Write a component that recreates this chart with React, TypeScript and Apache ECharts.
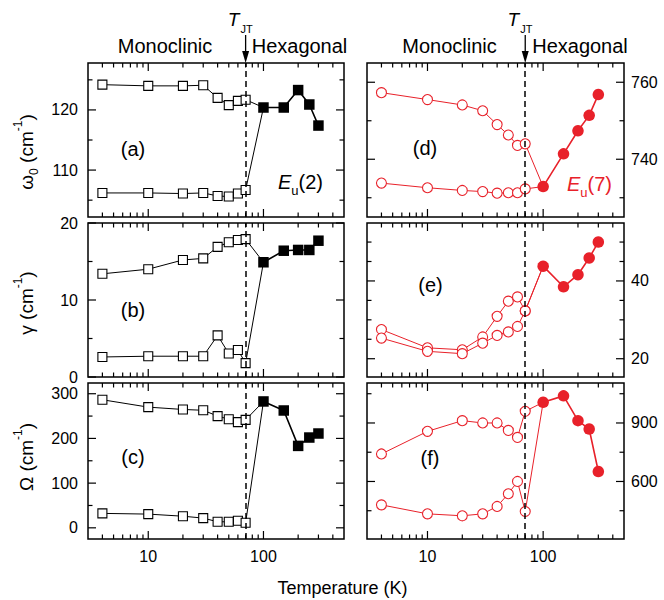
import React, { useEffect, useRef } from 'react';
import * as echarts from 'echarts';

// ---------------- data ----------------
const tempsLow = [4, 10, 20, 30, 40, 50, 60, 70];
const tempsHigh = [100, 150, 200, 250, 300];
const T_JT = 70;

// Eu(2) mode (left column)
const omegaUpperEu2 = [124.2, 124.0, 124.0, 124.1, 122.0, 120.8, 121.5, 121.7];
const omegaLowerEu2 = [106.2, 106.2, 106.1, 106.2, 105.7, 105.6, 106.1, 106.7];
const omegaHighEu2 = [120.4, 120.4, 123.3, 120.9, 117.4];

const gammaUpperEu2 = [13.4, 14.0, 15.2, 15.4, 16.9, 17.5, 17.8, 17.9];
const gammaLowerEu2 = [2.6, 2.7, 2.7, 2.7, 5.4, 3.05, 3.5, 1.8];
const gammaHighEu2 = [14.9, 16.4, 16.5, 16.5, 17.7];

const strengthUpperEu2 = [286.5, 270, 264.8, 263, 250, 243, 236.5, 241.6];
const strengthLowerEu2 = [32.3, 30.7, 26, 21.8, 13.5, 13.5, 15.7, 11.3];
const strengthHighEu2 = [282.7, 262.5, 183.3, 202, 211];

// Eu(7) mode (right column)
const omegaUpperEu7 = [757.3, 755.5, 754.1, 752.6, 749.0, 746.3, 743.6, 744.0];
const omegaLowerEu7 = [733.8, 732.6, 731.9, 731.6, 731.2, 731.3, 731.3, 732.3];
const omegaHighEu7 = [732.9, 741.4, 747.4, 751.4, 756.8];

const gammaUpperEu7 = [27.5, 22.8, 22.3, 25.6, 30.9, 34.8, 35.9, 32.3];
const gammaLowerEu7 = [25.3, 21.9, 21.3, 24.0, 26.0, 26.9, 28.3, 32.3];
const gammaHighEu7 = [43.8, 38.5, 41.6, 45.9, 50.0];

const strengthUpperEu7 = [741, 857, 912, 900, 900, 862, 826, 960];
const strengthLowerEu7 = [480, 434, 424, 434, 472, 537, 600, 446];
const strengthHighEu7 = [1006, 1039, 912, 869, 651];

// axis ticks / labels
const xMin = 3;
const xMax = 500;
const xTickLabels = [10, 100];
const xMajorTicks = [10, 100];
const xMinorTicks = [4, 5, 6, 7, 8, 9, 20, 30, 40, 50, 60, 70, 80, 90, 200, 300, 400];

const yLabelsA = [110, 120];
const yMinorA = [105, 115, 125];
const yLabelsB = [0, 10, 20];
const yMinorB = [5, 15];
const yLabelsC = [0, 100, 200, 300];
const yMinorC = [50, 150, 250];
const yLabelsD = [740, 760];
const yMinorD = [730, 750];
const yLabelsE = [20, 40];
const yMinorE = [25, 30, 35, 45, 50];
const yLabelsF = [600, 900];
const yMinorF = [450, 750, 1050];

// ---------------- layout / style ----------------
const FONT = "'Liberation Sans', Arial, Helvetica, sans-serif";
const RED = '#e8212a';
const BLACK = '#000000';
const colLeft = [88, 367];
const colWidth = [256, 257];
const rowTop = [63, 223, 383];
const rowHeight = [154, 154, 156];

type Panel = {
  upper: number[]; lower: number[]; high: number[];
  yMin: number; yMax: number; split: number;
  yLabels: number[]; yMinor: number[];
  red: boolean; col: number; row: number;
};

const panels: Panel[] = [
  { upper: omegaUpperEu2, lower: omegaLowerEu2, high: omegaHighEu2, yMin: 102.2, yMax: 127.8, split: 5, yLabels: yLabelsA, yMinor: yMinorA, red: false, col: 0, row: 0 },
  { upper: gammaUpperEu2, lower: gammaLowerEu2, high: gammaHighEu2, yMin: 0, yMax: 20, split: 5, yLabels: yLabelsB, yMinor: yMinorB, red: false, col: 0, row: 1 },
  { upper: strengthUpperEu2, lower: strengthLowerEu2, high: strengthHighEu2, yMin: -25, yMax: 324, split: 5, yLabels: yLabelsC, yMinor: yMinorC, red: false, col: 0, row: 2 },
  { upper: omegaUpperEu7, lower: omegaLowerEu7, high: omegaHighEu7, yMin: 725, yMax: 765, split: 5, yLabels: yLabelsD, yMinor: yMinorD, red: true, col: 1, row: 0 },
  { upper: gammaUpperEu7, lower: gammaLowerEu7, high: gammaHighEu7, yMin: 15.3, yMax: 54.9, split: 5, yLabels: yLabelsE, yMinor: yMinorE, red: true, col: 1, row: 1 },
  { upper: strengthUpperEu7, lower: strengthLowerEu7, high: strengthHighEu7, yMin: 305, yMax: 1105, split: 8, yLabels: yLabelsF, yMinor: yMinorF, red: true, col: 1, row: 2 },
];

const isIn = (list: number[], v: number) => list.some((l) => Math.abs(l - v) < 1e-6);

function buildOption(): any {
  const grid = panels.map((p) => ({
    left: colLeft[p.col], top: rowTop[p.row], width: colWidth[p.col], height: rowHeight[p.row],
    show: true, borderColor: BLACK, borderWidth: 1.5, backgroundColor: 'transparent', containLabel: false,
  }));
  const xAxis = panels.map((p, i) => ({
    type: 'log', logBase: 10, gridIndex: i, min: xMin, max: xMax,
    axisLine: { show: false }, axisTick: { show: false }, splitLine: { show: false },
    axisLabel: {
      show: p.row === 2, margin: 9, fontSize: 16, color: BLACK, fontFamily: FONT,
      formatter: (v: number) => (isIn(xTickLabels, Math.round(v)) ? String(Math.round(v)) : ''),
    },
  }));
  const yAxis = panels.map((p, i) => ({
    type: 'value', gridIndex: i, min: p.yMin, max: p.yMax, splitNumber: p.split,
    position: p.col === 0 ? 'left' : 'right',
    axisLine: { show: false }, axisTick: { show: false }, splitLine: { show: false },
    axisLabel: {
      margin: p.col === 0 ? 10 : 7, fontSize: 16, color: BLACK, fontFamily: FONT,
      showMinLabel: true, showMaxLabel: true,
      customValues: p.yLabels,
      formatter: (v: number) => (isIn(p.yLabels, v) ? String(Math.round(v)) : ''),
    },
  }));

  const series: any[] = [];
  panels.forEach((p, i) => {
    const col = p.red ? RED : BLACK;
    const openSym = p.red ? 'circle' : 'rect';
    const openSize = p.red ? 10 : 9;
    const fillSize = p.red ? 11.5 : 10.5;
    const mkOpen = (vals: number[], withMark: boolean) => ({
      type: 'line', xAxisIndex: i, yAxisIndex: i, z: 3,
      symbol: openSym, symbolSize: openSize,
      itemStyle: { color: '#ffffff', borderColor: col, borderWidth: 1.1 },
      lineStyle: { color: col, width: 1 },
      data: [
        ...tempsLow.map((t, k) => [t, vals[k]]),
        { value: [tempsHigh[0], p.high[0]], symbol: 'none' },
      ],
      markLine: withMark
        ? {
            silent: true, symbol: ['none', 'none'], label: { show: false },
            lineStyle: { color: BLACK, type: [6, 4], width: 1.5 },
            data: [{ xAxis: T_JT }],
          }
        : undefined,
    });
    series.push(mkOpen(p.upper, true));
    series.push(mkOpen(p.lower, false));
    series.push({
      type: 'line', xAxisIndex: i, yAxisIndex: i, z: 4,
      symbol: p.red ? 'circle' : 'rect', symbolSize: fillSize,
      itemStyle: { color: col, borderColor: col, borderWidth: 0 },
      lineStyle: { color: col, width: 1.6 },
      data: tempsHigh.map((t, k) => [t, p.high[k]]),
    });
    // tick marks (inside, on all four sides), positioned through the axes' scales
    const tickData = [
      ...xMinorTicks.map((v) => [v, p.yMin, 0]),
      ...xMajorTicks.map((v) => [v, p.yMin, 1]),
      ...p.yMinor.map((v) => [10, v, 2]),
      ...p.yLabels.map((v) => [10, v, 3]),
    ];
    series.push({
      type: 'custom', xAxisIndex: i, yAxisIndex: i, z: 6, silent: true, clip: false,
      data: tickData,
      renderItem: (params: any, api: any) => {
        const cs = params.coordSys;
        const kind = api.value(2);
        const pt = api.coord([api.value(0), api.value(1)]);
        const style = { stroke: BLACK, lineWidth: 1.2 };
        if (kind < 2) {
          const len = kind === 1 ? 8 : 4.5;
          const x = pt[0];
          const yb = cs.y + cs.height;
          return {
            type: 'group',
            children: [
              { type: 'line', shape: { x1: x, y1: yb, x2: x, y2: yb - len }, style },
              { type: 'line', shape: { x1: x, y1: cs.y, x2: x, y2: cs.y + len }, style },
            ],
          };
        }
        const len = kind === 3 ? 8 : 4.5;
        const y = pt[1];
        const xr = cs.x + cs.width;
        return {
          type: 'group',
          children: [
            { type: 'line', shape: { x1: cs.x, y1: y, x2: cs.x + len, y2: y }, style },
            { type: 'line', shape: { x1: xr, y1: y, x2: xr - len, y2: y }, style },
          ],
        };
      },
    });
  });

  return { animation: false, backgroundColor: '#ffffff', grid, xAxis, yAxis, series };
}

function textEl(x: number, y: number, text: string, size: number, extra: any = {}) {
  return {
    type: 'text', x, y, silent: true,
    style: {
      text, fontSize: size, fontFamily: FONT, fill: BLACK, align: 'center', verticalAlign: 'middle',
      ...extra,
    },
  };
}

function buildGraphic(chart: any): any[] {
  const g: any[] = [];
  const arrowX = [
    chart.convertToPixel({ xAxisIndex: 0 }, T_JT),
    chart.convertToPixel({ xAxisIndex: 3 }, T_JT),
  ];
  const monoX = [165, 449.5];
  const hexX = [299.5, 580];
  [0, 1].forEach((c) => {
    const ax = arrowX[c];
    g.push(textEl(monoX[c], 46, 'Monoclinic', 20));
    g.push(textEl(hexX[c], 46, 'Hexagonal', 20));
    g.push(textEl(ax - 12, 19, 'T', 19, { fontStyle: 'italic' }));
    g.push(textEl(ax - 5, 29, 'JT', 11, { align: 'left' }));
    g.push({ type: 'line', silent: true, shape: { x1: ax, y1: 35, x2: ax, y2: 53 }, style: { stroke: BLACK, lineWidth: 1.3 } });
    g.push({ type: 'polygon', silent: true, shape: { points: [[ax - 3.5, 51], [ax + 3.5, 51], [ax, 63]] }, style: { fill: BLACK } });
  });
  const nameRich = {
    a: { fontSize: 19, fontFamily: FONT, fill: BLACK, lineHeight: 28 },
    sub: { fontSize: 12, fontFamily: FONT, fill: BLACK, lineHeight: 12, verticalAlign: 'bottom' },
    sup: { fontSize: 12, fontFamily: FONT, fill: BLACK, lineHeight: 12, verticalAlign: 'top' },
  };
  const names = [
    { y: 152, t: '{a|ω}{sub|0}{a| (cm}{sup|-1}{a|)}' },
    { y: 303, t: '{a|γ (cm}{sup|-1}{a|)}' },
    { y: 457, t: '{a|Ω (cm}{sup|-1}{a|)}' },
  ];
  names.forEach((n) => {
    g.push({
      type: 'text', x: 26, y: n.y, rotation: Math.PI / 2, silent: true,
      style: { text: n.t, rich: nameRich, align: 'center', verticalAlign: 'middle', fontFamily: FONT, fontSize: 19 },
    });
  });
  const labels = [
    { x: 133, y: 149, t: '(a)' }, { x: 133, y: 310, t: '(b)' }, { x: 133, y: 457, t: '(c)' },
    { x: 425, y: 148, t: '(d)' }, { x: 430.5, y: 285, t: '(e)' }, { x: 430, y: 458, t: '(f)' },
  ];
  labels.forEach((l) => g.push(textEl(l.x, l.y, l.t, 20)));
  const euRich = (fill: string) => ({
    e: { fontSize: 20, fontFamily: FONT, fontStyle: 'italic', fill, lineHeight: 30 },
    s: { fontSize: 13, fontFamily: FONT, fill, lineHeight: 13, verticalAlign: 'bottom' },
    n: { fontSize: 20, fontFamily: FONT, fill, lineHeight: 30 },
  });
  g.push({
    type: 'text', x: 278, y: 182, silent: true,
    style: { text: '{e|E}{s|u}{n|(2)}', rich: euRich(BLACK), align: 'left', verticalAlign: 'middle' },
  });
  g.push({
    type: 'text', x: 567, y: 184, silent: true,
    style: { text: '{e|E}{s|u}{n|(7)}', rich: euRich(RED), align: 'left', verticalAlign: 'middle' },
  });
  g.push(textEl(342.5, 588, 'Temperature (K)', 18));
  return g;
}

export default function App() {
  const ref = useRef<HTMLDivElement>(null);
  useEffect(() => {
    if (!ref.current) return;
    const chart = echarts.init(ref.current, undefined, { renderer: 'svg' });
    chart.setOption(buildOption());
    chart.setOption({ graphic: buildGraphic(chart) });
    return () => chart.dispose();
  }, []);
  return (
    <div
      ref={ref}
      style={{ position: 'absolute', left: 0, top: 0, width: 664, height: 600, background: '#fff' }}
    />
  );
}
